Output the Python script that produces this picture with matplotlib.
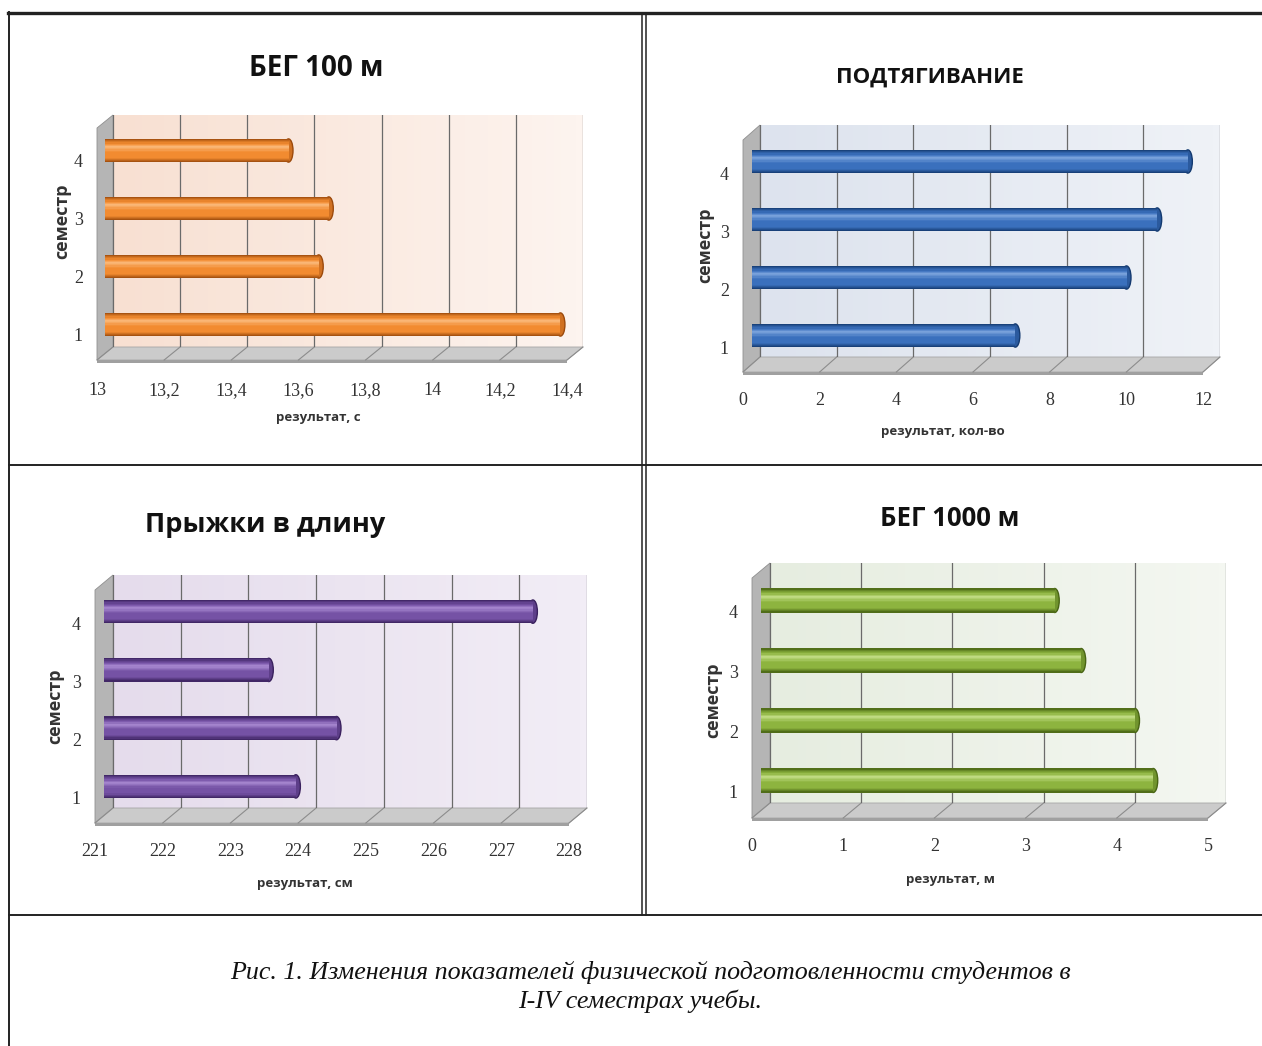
import numpy as np
import matplotlib
matplotlib.use("Agg")
import matplotlib.pyplot as plt
from matplotlib.colors import LinearSegmentedColormap, to_rgb
from matplotlib.patches import Polygon, Ellipse
from matplotlib.lines import Line2D
from matplotlib.transforms import Affine2D, IdentityTransform
from matplotlib.ticker import FuncFormatter

W, H = 1262, 1046

semesters = [1, 2, 3, 4]

titles = ['БЕГ 100 м', 'ПОДТЯГИВАНИЕ', 'Прыжки в длину', 'БЕГ 1000 м']
title_sizes = [20, 16, 19.5, 18.5]
xlabels = ['результат, с', 'результат, кол-во', 'результат, см', 'результат, м']
ylabel = 'семестр'

run100_vals = [14.37, 13.65, 13.68, 13.56]
run100_ticks = [13, 13.2, 13.4, 13.6, 13.8, 14, 14.2, 14.4]

pullup_vals = [7.0, 9.9, 10.7, 11.5]
pullup_ticks = [0, 2, 4, 6, 8, 10, 12]

jump_vals = [223.9, 224.5, 223.5, 227.4]
jump_ticks = [221, 222, 223, 224, 225, 226, 227, 228]

run1000_vals = [4.35, 4.15, 3.56, 3.27]
run1000_ticks = [0, 1, 2, 3, 4, 5]

caption = ['Рис. 1. Изменения показателей физической подготовленности студентов в',
           'I-IV семестрах учебы.']

SANS = ['Open Sans', 'DejaVu Sans']
SERIF = ['Liberation Serif', 'DejaVu Serif']

fig = plt.figure(figsize=(W / 100, H / 100), dpi=100)
fig.patch.set_facecolor('white')


def fig_xy(x, y):
    return x / W, 1 - y / H


def disp(x, y):
    # image pixel (y down) -> display pixel (y up)
    return x, H - y


def mix(c1, c2, f):
    a, b = np.array(to_rgb(c1)), np.array(to_rgb(c2))
    return tuple(a * (1 - f) + b * f)


def cyl_cmap(dark, base, light):
    # 0 = top of the cylinder, 1 = bottom
    return LinearSegmentedColormap.from_list(
        'cyl', [(0, dark), (0.1, mix(dark, base, 0.6)), (0.2, base), (0.34, light),
                (0.55, base), (0.8, base), (0.9, mix(dark, base, 0.5)), (1, dark)])


def draw_panel(box, depth, values, ticks, title, tsize, xlabel, pal, wall,
               title_xy, xlabel_xy, ylabel_xy):
    x0, y0, x1, y1 = box
    dx, dy = depth
    ax = fig.add_axes([x0 / W, 1 - y1 / H, (x1 - x0) / W, (y1 - y0) / H])
    xmin, xmax = ticks[0], ticks[-1]

    # back wall with a soft gradient
    ax.imshow(np.linspace(0, 1, 64).reshape(1, -1), extent=[xmin, xmax, 0.5, 4.5],
              aspect='auto', cmap=LinearSegmentedColormap.from_list('wall', wall), zorder=0)
    ax.set_xlim(xmin, xmax)
    ax.set_ylim(0.5, 4.5)
    for s in ax.spines.values():
        s.set_visible(False)
    ax.set_xticks(ticks)
    ax.xaxis.set_major_formatter(FuncFormatter(lambda v, p: f'{v:g}'.replace('.', ',')))
    ax.set_yticks(semesters)
    ax.grid(axis='x', color='#6a6a6a', lw=0.9)
    ax.grid(axis='y', visible=False)

    # side wall and floor of the 3-D box
    wall_pts = [disp(x0, y0), disp(x0, y1), disp(x0 - dx, y1 + dy), disp(x0 - dx, y0 + dy)]
    ax.add_patch(Polygon(wall_pts, closed=True, transform=IdentityTransform(),
                         facecolor='#b5b5b5', edgecolor='#8f8f8f', lw=0.6,
                         clip_on=False, zorder=1))
    floor_pts = [disp(x0, y1), disp(x1, y1), disp(x1 - dx, y1 + dy), disp(x0 - dx, y1 + dy)]
    ax.add_patch(Polygon(floor_pts, closed=True, transform=IdentityTransform(),
                         facecolor='#cbcbcb', edgecolor='#a5a5a5', lw=0.6,
                         clip_on=False, zorder=1))
    slab_pts = [disp(x0 - dx, y1 + dy), disp(x1 - dx, y1 + dy),
                disp(x1 - dx, y1 + dy + 3), disp(x0 - dx, y1 + dy + 3)]
    ax.add_patch(Polygon(slab_pts, closed=True, transform=IdentityTransform(),
                         facecolor='#a0a0a0', edgecolor='none', clip_on=False, zorder=1))
    for t in ticks:
        bx, by = ax.transData.transform((t, 0.5))
        ax.add_line(Line2D([bx, bx - dx], [by, by - dy], transform=IdentityTransform(),
                           color='#8c8c8c', lw=0.8, clip_on=False, zorder=1.2))

    # cylinder bars, shaded in thin horizontal strips
    cmap = cyl_cmap(*pal)
    trans = ax.transData + Affine2D().translate(-dx / 2, -dy / 2)
    cap = 4.5 / ((x1 - x0) / (xmax - xmin))
    h = 0.4
    n = 20
    ys = np.array(semesters, dtype=float)
    widths = np.array(values) - xmin - cap
    for k in range(n):
        t = 1 - (k + 0.5) / n
        ax.barh(ys - h / 2 + (k + 0.5) * h / n, widths, height=h / n * 1.08, left=xmin,
                color=cmap(t), lw=0, transform=trans, clip_on=False, zorder=3)
    for s, v in zip(semesters, values):
        ax.add_patch(Ellipse((v - cap, s), 2 * cap, h, transform=trans,
                             facecolor=mix(pal[0], pal[1], 0.6), edgecolor=pal[0], lw=1.0,
                             clip_on=False, zorder=2.9))

    # tick labels sit on the front edge of the box
    ax.tick_params(axis='both', length=0, labelsize=13, colors='#333333')
    ax.tick_params(axis='x', pad=(40 - dy - 9) / 1.389)
    ax.tick_params(axis='y', pad=14 / 1.389)
    shift = Affine2D().translate(-dx, -dy - 4)
    for lbl in ax.get_xticklabels() + ax.get_yticklabels():
        lbl.set_fontfamily(SERIF)
        lbl.set_transform(lbl.get_transform() + shift)

    fig.text(*fig_xy(*title_xy), title, ha='center', va='center', fontsize=tsize,
             fontweight='bold', family=SANS, color='#111111')
    fig.text(*fig_xy(*xlabel_xy), xlabel, ha='center', va='center', fontsize=9.5,
             fontweight='bold', family=SANS, color='#333333')
    fig.text(*fig_xy(*ylabel_xy), ylabel, ha='center', va='center', fontsize=13,
             fontweight='bold', family=SANS, color='#333333', rotation=90)
    return ax


draw_panel((113, 115, 583, 347), (16, 13), run100_vals, run100_ticks,
           titles[0], title_sizes[0], xlabels[0], ('#9c4a0c', '#f28b30', '#fbbb7e'),
           ['#f8e0d2', '#fdf4ef'], (316, 68), (318, 418), (62, 221))
draw_panel((760, 125, 1220, 357), (17, 15), pullup_vals, pullup_ticks,
           titles[1], title_sizes[1], xlabels[1], ('#143a70', '#3a70bd', '#7fa7de'),
           ['#dde3ee', '#eff2f7'], (930, 77), (943, 431), (705, 245))
draw_panel((113, 575, 587, 808), (18, 15), jump_vals, jump_ticks,
           titles[2], title_sizes[2], xlabels[2], ('#3a215e', '#7552a5', '#a98ad2'),
           ['#e5dcec', '#f2edf6'], (265, 525), (305, 884), (55, 706))
draw_panel((770, 563, 1226, 803), (18, 15), run1000_vals, run1000_ticks,
           titles[3], title_sizes[3], xlabels[3], ('#486414', '#8db43f', '#c6e08a'),
           ['#e6ede0', '#f4f7f1'], (950, 518), (950, 880), (713, 700))


# table frame around the four charts
def frame_line(xs, ys, lw=1.4):
    fig.add_artist(Line2D([x / W for x in xs], [1 - y / H for y in ys],
                          transform=fig.transFigure, color='#222222', lw=lw))


frame_line([8, W], [13, 13], lw=2.4)
frame_line([9, 9], [12, H])
frame_line([642, 642], [13, 915], lw=1.1)
frame_line([646, 646], [13, 915], lw=1.1)
frame_line([9, W], [465, 465], lw=1.4)
frame_line([9, W], [915, 915], lw=1.4)

fig.text(*fig_xy(650, 973), caption[0], ha='center', va='center', fontsize=18.7,
         style='italic', family=SERIF, color='#111111')
fig.text(*fig_xy(640, 1001), caption[1], ha='center', va='center', fontsize=18.7,
         style='italic', family=SERIF, color='#111111')

fig.savefig('out.png', dpi=100, facecolor='white')
